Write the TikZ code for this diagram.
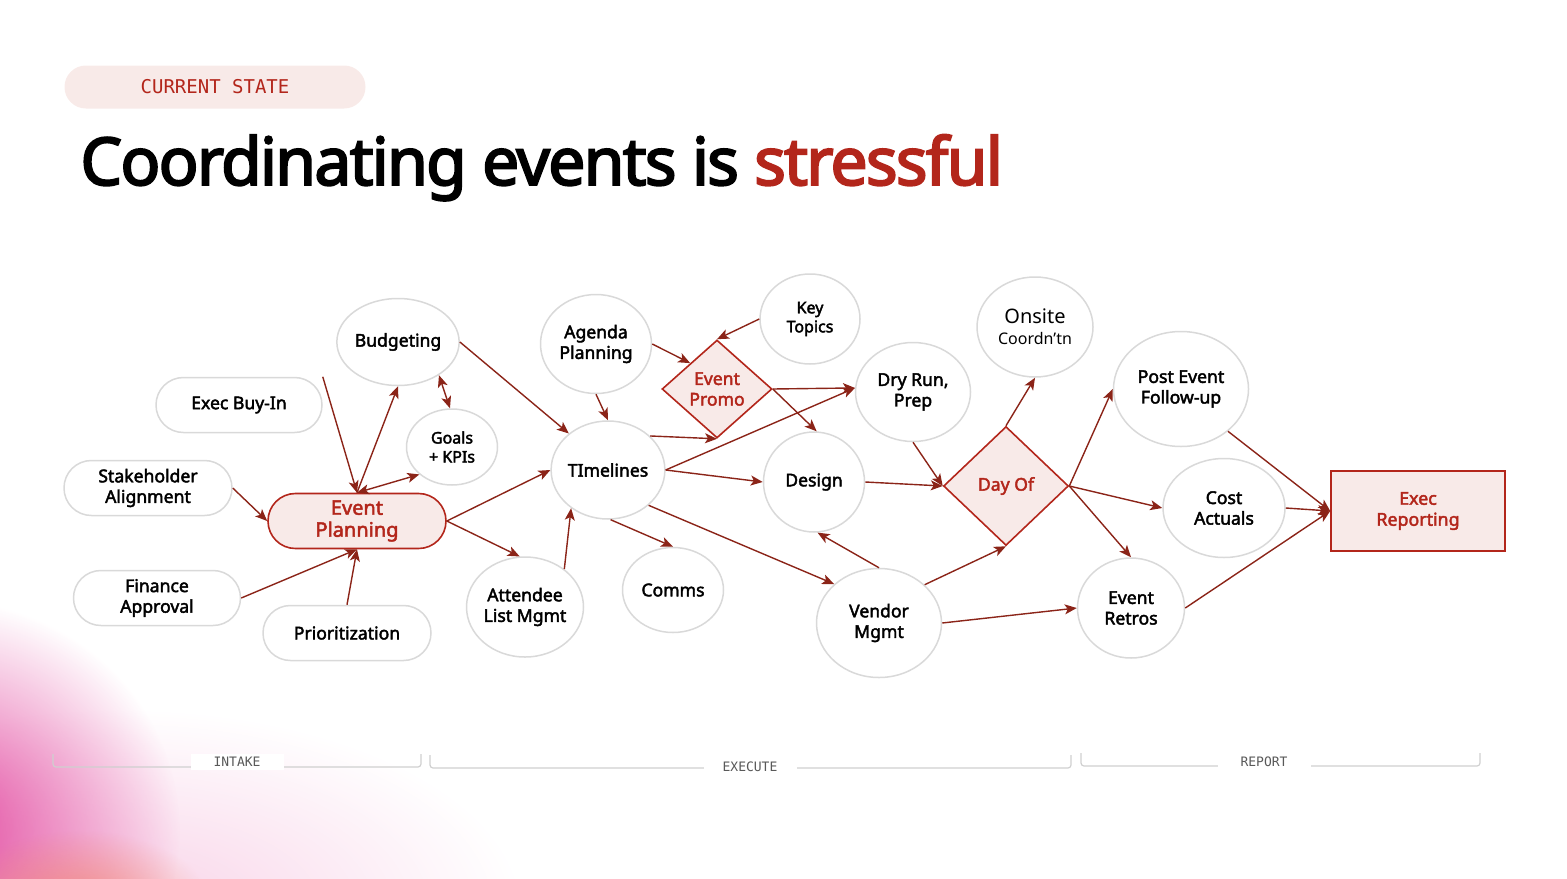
\documentclass[tikz,border=0pt]{standalone}
\usepackage{fontspec}
\setmainfont{Noto Sans}
\newfontfamily\medfont{Noto Sans}[FakeBold=2.4]
\newfontfamily\titlefont{Noto Sans}[LetterSpace=-2.6, FakeBold=3]
\setmonofont{DejaVu Sans Mono}
\usetikzlibrary{arrows.meta,shapes.geometric,fadings}

\definecolor{brick}{HTML}{8B2418}
\definecolor{scarlet}{HTML}{B3261B}
\definecolor{blush}{HTML}{F8EAE8}
\definecolor{ring}{HTML}{D9D9D9}
\definecolor{rule}{HTML}{CFCFCF}
\definecolor{candy}{HTML}{E2489F}
\definecolor{peach}{HTML}{F2845E}
\tikzfading[name=glow, inner color=transparent!0, outer color=transparent!100]

\begin{document}
\begin{tikzpicture}[
    x=0.5pt,
    y=-0.5pt,
    >={Stealth[length=6pt, width=5pt, inset=1.5pt]},
    pill/.style={draw=ring, line width=0.75pt, fill=white, rounded corners=13.7pt, align=center, minimum height=27.5pt, inner sep=1pt, font=\medfont\fontsize{8.8}{10.3}\selectfont},
    bubble/.style={ellipse, draw=ring, line width=0.75pt, fill=white, align=center, inner sep=0pt, font=\medfont\fontsize{8.8}{10.3}\selectfont},
    hub/.style={pill, draw=scarlet, fill=blush, text=scarlet, line width=0.8pt, font=\medfont\fontsize{10}{11}\selectfont},
    gate/.style={diamond, draw=scarlet, fill=blush, text=scarlet, line width=0.8pt, align=center, inner sep=0pt, font=\medfont\fontsize{8.8}{10.3}\selectfont},
    report/.style={rectangle, draw=scarlet, fill=blush, text=scarlet, line width=0.8pt, align=center, font=\medfont\fontsize{8.9}{10.5}\selectfont},
    link/.style={->, draw=brick, line width=0.7pt},
    phase/.style={fill=white, minimum width=46.5pt, minimum height=8pt, inner sep=0pt, text=black!65, font=\ttfamily\fontsize{6.5}{7}\selectfont},
    bracket/.style={draw=rule, line width=0.6pt, rounded corners=1.5pt}
]
\useasboundingbox (0,0) rectangle (1567,878);

% soft corner glow
\begin{scope}
\clip (0,0) rectangle (1567,878);
\fill[candy!70, opacity=0.35, path fading=glow] (120,910) ellipse (400 and 200);
\fill[candy, opacity=1, path fading=glow] (-60,830) ellipse (240 and 230);
\fill[peach, opacity=0.65, path fading=glow] (80,905) ellipse (130 and 75);
\end{scope}

% heading
\node[fill=blush, rounded corners=10.7pt, minimum width=150.5pt, minimum height=21.5pt, text=scarlet, font=\ttfamily\fontsize{9.5}{10}\selectfont] (state) at (215,87) {CURRENT STATE};
\node[anchor=base west, inner sep=0pt, font=\titlefont\fontsize{33}{36}\selectfont] (title) at (80,185) {Coordinating events is \textcolor{scarlet}{stressful}};

% intake
\node[pill, minimum width=83pt] (buyin) at (239,405) {Exec Buy-In};
\node[pill, minimum width=84pt] (stake) at (148,488) {Stakeholder\\Alignment};
\node[pill, minimum width=83.5pt] (finance) at (157,598) {Finance\\Approval};
\node[pill, minimum width=84pt] (prio) at (347,633) {Prioritization};
\node[hub, minimum width=89pt] (planning) at (357,521) {Event\\Planning};
\node[bubble, minimum width=58pt, minimum height=43.5pt] (budget) at (398,342) {Budgeting};
\node[bubble, minimum width=45.5pt, minimum height=38pt, font=\medfont\fontsize{8}{9.5}\selectfont] (goals) at (452,447) {Goals\\+ KPIs};

% execute
\node[bubble, minimum width=55.5pt, minimum height=49.5pt] (agenda) at (596,344) {Agenda\\Planning};
\node[bubble, minimum width=55.5pt, minimum height=49pt] (timelines) at (608,470) {TImelines};
\node[bubble, minimum width=55pt, minimum height=50pt] (attendee) at (525,607) {Attendee\\List Mgmt};
\node[bubble, minimum width=50.5pt, minimum height=42.5pt] (comms) at (673,590) {Comms};
\node[gate, minimum width=55pt, minimum height=49pt] (promo) at (717,389) {Event\\Promo};
\node[bubble, minimum width=50pt, minimum height=45pt, font=\medfont\fontsize{8}{9.5}\selectfont] (topics) at (810,319) {Key\\Topics};
\node[bubble, minimum width=50.5pt, minimum height=50pt] (design) at (814,482) {Design};
\node[bubble, minimum width=57.5pt, minimum height=49.5pt] (dryrun) at (913,392) {Dry Run,\\Prep};
\node[bubble, minimum width=62.5pt, minimum height=54.5pt] (vendor) at (879,623) {Vendor\\Mgmt};
\node[gate, minimum width=62.5pt, minimum height=59.5pt] (dayof) at (1006,486) {Day Of};
\node[bubble, minimum width=58pt, minimum height=50pt, font=\fontsize{10}{10.5}\selectfont] (onsite) at (1035,327) {Onsite\\{\fontsize{8}{9}\selectfont Coordn’tn}};

% report
\node[bubble, minimum width=67.5pt, minimum height=57.5pt] (followup) at (1181,389) {Post Event\\Follow-up};
\node[bubble, minimum width=61pt, minimum height=49.5pt] (cost) at (1224,508) {Cost\\Actuals};
\node[bubble, minimum width=53.5pt, minimum height=50pt] (retros) at (1131,608) {Event\\Retros};
\node[report, minimum width=87pt, minimum height=40pt] (execrep) at (1418,511) {Exec\\Reporting};

% into event planning
\draw[link] (buyin.north east) -- (planning.north);
\draw[link] (stake.east) -- (planning.west);
\draw[link] (finance.east) -- (planning.south);
\draw[link] (prio.north) -- (planning.south);
\draw[link] (planning.north) -- (budget.south);
\draw[link, <->] (planning.north) -- (goals.220);
\draw[link, <->] (budget.-39) -- (goals.93);

% toward timelines
\draw[link] (budget.east) -- (timelines.137);
\draw[link] (planning.east) -- (timelines.west);
\draw[link] (planning.east) -- (attendee.96);
\draw[link] (attendee.44) -- (timelines.226);
\draw[link] (agenda.south) -- (timelines.north);
\draw[link] (agenda.east) -- (promo.136);
\draw[link] (topics.west) -- (promo.north);
\draw[link] (timelines.39) -- (promo.south);
\draw[link] (timelines.east) -- (dryrun.176);
\draw[link] (promo.east) -- (dryrun.176);
\draw[link] (promo.east) -- (design.87);
\draw[link] (timelines.east) -- (design.west);
\draw[link] (timelines.-87) -- (comms.north);
\draw[link] (timelines.-41) -- (vendor.139);
\draw[link] (vendor.north) -- (design.-86);

% day of
\draw[link] (design.east) -- (dayof.west);
\draw[link] (dryrun.south) -- (dayof.west);
\draw[link] (vendor.40) -- (dayof.south);
\draw[link] (dayof.north) -- (onsite.south);
\draw[link] (dayof.east) -- (followup.west);
\draw[link] (dayof.east) -- (cost.west);
\draw[link] (dayof.east) -- (retros.north);
\draw[link] (vendor.east) -- (retros.west);

% reporting
\draw[link] (followup.-42) -- (execrep.west);
\draw[link] (cost.east) -- (execrep.west);
\draw[link] (retros.east) -- (execrep.west);

% phases
\draw[bracket] (53,754) -- (53,767) -- (421,767) -- (421,754);
\draw[bracket] (430,755) -- (430,768) -- (1071,768) -- (1071,755);
\draw[bracket] (1081,753) -- (1081,766) -- (1480,766) -- (1480,753);
\node[phase] (intake) at (237,762) {INTAKE};
\node[phase] (execute) at (750,767) {EXECUTE};
\node[phase] (reporting) at (1264,762) {REPORT};
\end{tikzpicture}
\end{document}
